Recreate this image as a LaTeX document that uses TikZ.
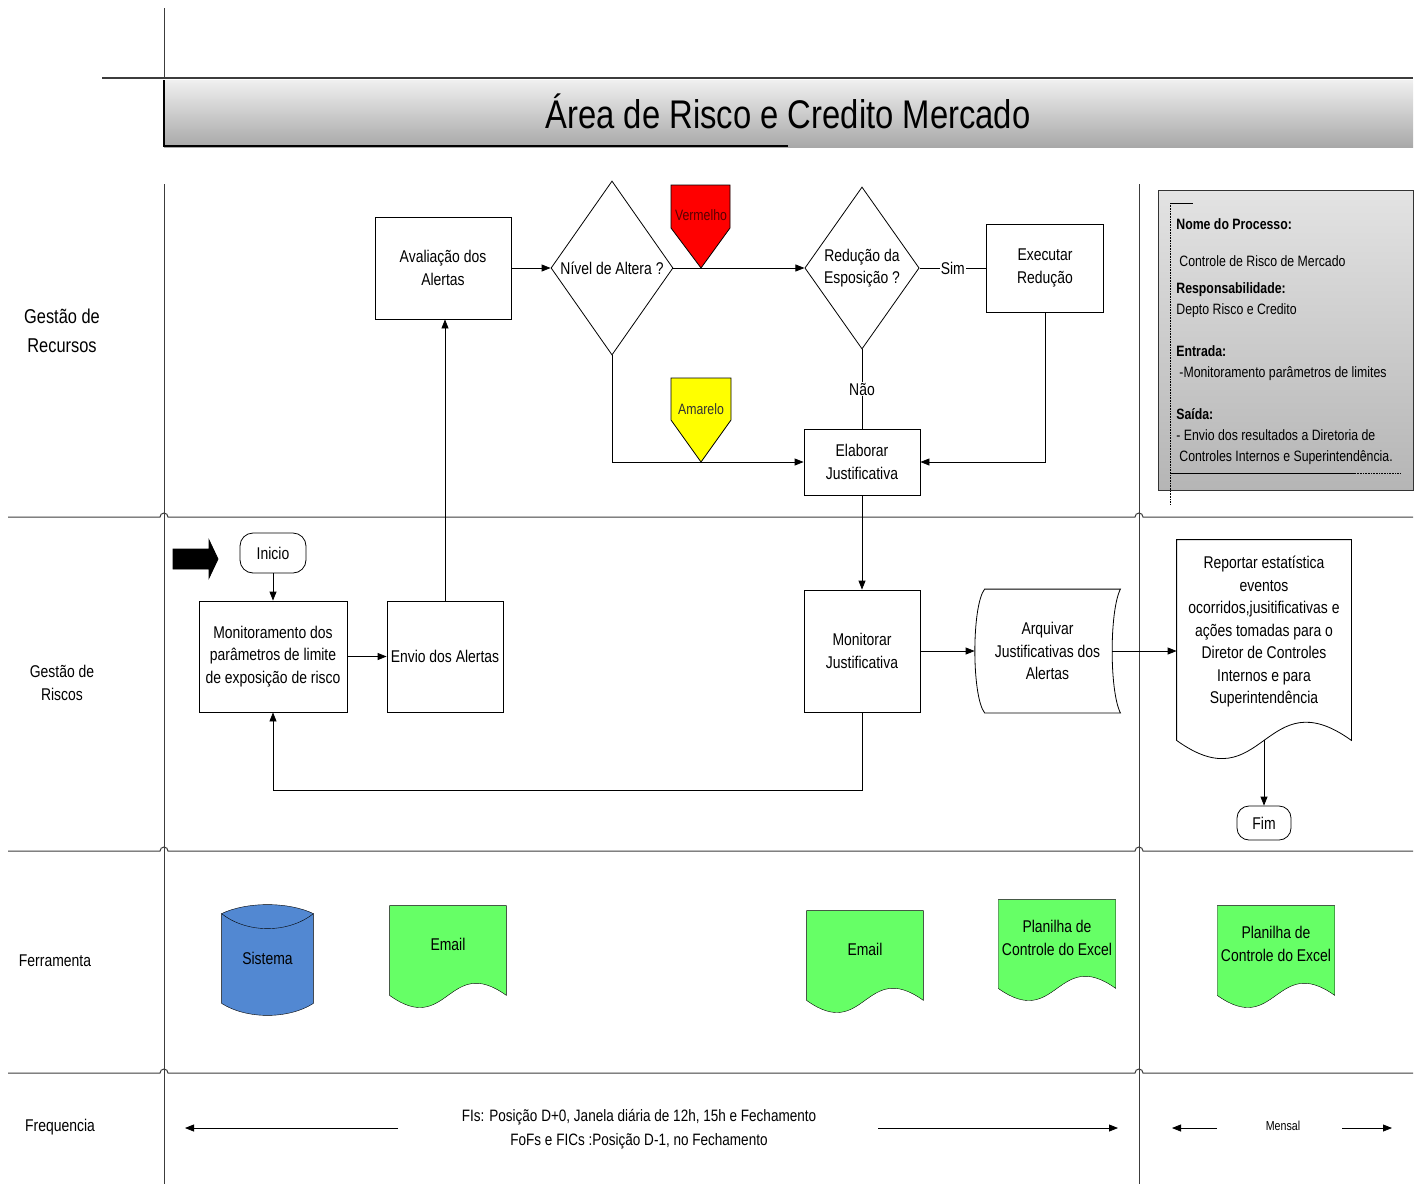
\documentclass[tikz,border=0pt]{standalone}
\usepackage{fontspec}
\setmainfont[FakeStretch=0.82]{Liberation Sans}
\usetikzlibrary{calc}
\usetikzlibrary{arrows.meta}
\usetikzlibrary{shapes.geometric}
\usetikzlibrary{backgrounds}

\definecolor{docgreen}{HTML}{66FF66}
\definecolor{sysblue}{HTML}{5288D2}
\definecolor{lanegray}{HTML}{3C3C3C}
\definecolor{alertred}{HTML}{FF0000}
\definecolor{alertyellow}{HTML}{FFFF00}

\tikzset{
  box/.style={draw, align=center, inner sep=2pt},
  decision/.style={diamond, draw, align=center, inner sep=0pt},
  terminal/.style={draw, rounded corners=13pt, align=center, inner sep=2pt},
  lane/.style={draw=lanegray, line width=1pt},
  flow/.style={->, line width=0.8pt},
  lanelabel/.style={align=center, font=\fontsize{17}{23}\selectfont},
}

% documento com base ondulada: nome, cor, amplitude, descida dos lados
\newcommand{\docshape}[4]{%
  \draw[fill=#2] (#1.north west) -- (#1.north east) -- ($(#1.south east)+(0,#4)$)
    .. controls ($(#1.south)+(0,#4-3.5*#3)$) and ($(#1.south)+(0,#4+3.5*#3)$)
    .. ($(#1.south west)+(0,#4)$) -- cycle;}

\begin{document}
\begin{tikzpicture}[x=1pt,y=-1pt,line width=0.8pt,>={Triangle[length=9pt,width=7pt]},
    every node/.style={font=\fontsize{17}{22.5}\selectfont}]
\useasboundingbox (0,0) rectangle (1422,1184);

% raias
\draw[lane] (164,8) -- (164,78);
\draw[lane] (164,184) -- (164,1184);
\draw[lane] (1139,184) -- (1139,1184);
\draw[lane, line width=1.4pt] (102,78) -- (1413,78);
\foreach \y in {517,851,1073}
  \draw[lane] (8,\y) -- (160,\y) arc(180:360:4) -- (1135,\y) arc(180:360:4) -- (1413,\y);

% titulo
\shade[top color=gray!12, bottom color=gray!68] (164,80) rectangle (1413,147);
\draw[line width=2.5pt] (164,80) -- (164,146) -- (788,146);
\node (titulo) at (788,111) {\fontsize{40}{44}\selectfont Área de Risco e Credito Mercado};

\node[lanelabel, font=\fontsize{20}{29}\selectfont] (lrec) at (62,331) {Gestão de\\Recursos};
\node[lanelabel] (lris) at (62,683) {Gestão de\\Riscos};
\node[lanelabel] (lfer) at (55,961) {Ferramenta};
\node[lanelabel] (lfre) at (60,1127) {Frequencia};

% quadro do processo
\draw[draw=gray!40!black, top color=gray!22, bottom color=gray!58] (1158,190) rectangle (1413,490);
\draw[densely dotted, line width=0.6pt] (1170,203) -- (1170,505);
\draw (1170,203) -- (1193,203);
\draw (1170,473) -- (1355,473);
\draw[densely dotted, line width=0.6pt] (1355,473) -- (1400,473);
\node[anchor=north west, align=left, inner sep=0pt, font=\fontsize{15}{21}\selectfont] (info) at (1176,218)
  {\textbf{Nome do Processo:}\\[16pt]
   \hspace{3pt}Controle de Risco de Mercado\\[6pt]
   \textbf{Responsabilidade:}\\
   Depto Risco e Credito\\[21pt]
   \textbf{Entrada:}\\
   \hspace{3pt}-Monitoramento parâmetros de limites\\[21pt]
   \textbf{Saída:}\\
   - Envio dos resultados a Diretoria de\\
   \hspace{3pt}Controles Internos e Superintendência.};

% alertas
\draw[fill=alertred] (671,185) -- (730,185) -- (730,228) -- (701,268) -- (671,228) -- cycle;
\node[text=red!35!black, font=\fontsize{15}{18}\selectfont] (verm) at (701,215) {Vermelho};
\draw[fill=alertyellow] (671,378) -- (731,378) -- (731,420) -- (701,462) -- (671,420) -- cycle;
\node[text=black!80, font=\fontsize{15}{18}\selectfont] (amar) at (701,409) {Amarelo};

% processo
\node[box, minimum width=136, minimum height=102] (aval) at (443,268) {Avaliação dos\\Alertas};
\node[decision, minimum width=122, minimum height=174] (nivel) at (612,268) {Nível de Altera ?};
\node[decision, minimum width=113, minimum height=162] (reduc) at (862,268) {Redução da\\Esposição ?};
\node[box, minimum width=117, minimum height=88] (exec) at (1045,268) {Executar\\Redução};
\node[box, minimum width=116, minimum height=66] (elab) at (862,462) {Elaborar\\Justificativa};

\node[terminal, minimum width=66, minimum height=40] (inicio) at (273,553) {Inicio};
\draw[fill=black] (173,549) -- (209,549) -- (209,540) -- (218,559) -- (209,578) -- (209,569) -- (173,569) -- cycle;
\node[box, minimum width=148, minimum height=111] (monit) at (273,656.5) {Monitoramento dos\\parâmetros de limite\\de exposição de risco};
\node[box, minimum width=116, minimum height=111] (envio) at (445,656.5) {Envio dos Alertas};
\node[box, minimum width=116, minimum height=122] (monitj) at (862,651) {Monitorar\\Justificativa};
\node[align=center, minimum width=145, minimum height=123] (arq) at (1047.5,651) {Arquivar\\Justificativas dos\\Alertas};
\draw ($(arq.north west)+(10,0)$) .. controls ($(arq.west)+(-3,-45)$) and ($(arq.west)+(-3,45)$) .. ($(arq.south west)+(10,0)$)
  -- (arq.south east) .. controls ($(arq.east)+(-11,40)$) and ($(arq.east)+(-11,-40)$) .. (arq.north east) -- cycle;
\node[align=center, minimum width=174, minimum height=183] (report) at (1264,631.5)
  {Reportar estatística\\eventos\\ocorridos,jusitificativas e\\ações tomadas para o\\Diretor de Controles\\Internos e para\\Superintendência};
\docshape{report}{none}{18}{17}
\node[terminal, rounded corners=12pt, minimum width=54, minimum height=34] (fim) at (1264,823) {Fim};

% ferramentas
\node[minimum width=91, minimum height=89] (sis) at (267.5,958.5) {Sistema};
\node[align=center, minimum width=116, minimum height=76] (email1) at (448,944) {Email};
\node[align=center, minimum width=116, minimum height=76] (email2) at (865,949) {Email};
\node[align=center, minimum width=116, minimum height=76] (plan1) at (1057,938) {Planilha de\\Controle do Excel};
\node[align=center, minimum width=116, minimum height=76] (plan2) at (1276,944) {Planilha de\\Controle do Excel};
\begin{scope}[on background layer]
  \draw[fill=sysblue] (sis.north west) .. controls ($(sis.north west)+(25,-12)$) and ($(sis.north east)+(-25,-12)$) .. (sis.north east)
    -- (sis.south east) .. controls ($(sis.south east)+(-25,16)$) and ($(sis.south west)+(25,16)$) .. (sis.south west) -- cycle;
  \draw (sis.north west) .. controls ($(sis.north west)+(25,20)$) and ($(sis.north east)+(-25,20)$) .. (sis.north east);
  \docshape{email1}{docgreen}{12}{13}
  \docshape{email2}{docgreen}{12}{13}
  \docshape{plan1}{docgreen}{12}{12}
  \docshape{plan2}{docgreen}{12}{13}
\end{scope}

% conexoes
\draw[flow] (aval) -- (nivel);
\draw[flow] (nivel) -- (reduc);
\draw (reduc) -- node[fill=white, inner sep=1pt] (sim) {Sim} (exec);
\draw (reduc) -- node[fill=white, inner sep=1pt] (nao) {Não} (elab);
\draw[flow] (nivel.south) |- (elab.west);
\draw[flow] (exec.south) |- (elab.east);
\draw[flow] (elab) -- (monitj);
\draw[flow] (inicio) -- (monit);
\draw[flow] (monit) -- (envio);
\draw[flow] (envio.north) -- (envio.north |- aval.south);
\draw[flow] (monitj.south) -- ++(0,78) -| (monit.south);
\draw[flow] (monitj.east) -- (arq.west);
\draw[flow] ($(arq.east)+(-8,0)$) -- (arq.east -| report.west);
\draw[flow] ([yshift=-17pt]report.south) -- (fim);

% frequencia
\node[align=center, font=\fontsize{16.5}{24}\selectfont] (freq) at (639,1129)
  {FIs: Posição D+0, Janela diária de 12h, 15h e Fechamento\\FoFs e FICs :Posição D-1, no Fechamento};
\coordinate (fa) at (398,1128);
\coordinate (fb) at (185,1128);
\coordinate (fc) at (878,1128);
\coordinate (fd) at (1118,1128);
\draw[flow] (fa) -- (fb);
\draw[flow] (fc) -- (fd);
\node[font=\fontsize{13}{16}\selectfont] (mensal) at (1283,1126) {Mensal};
\coordinate (ma) at (1217,1128);
\coordinate (mb) at (1172,1128);
\coordinate (mc) at (1342,1128);
\coordinate (md) at (1392,1128);
\draw[flow] (ma) -- (mb);
\draw[flow] (mc) -- (md);
\end{tikzpicture}
\end{document}
